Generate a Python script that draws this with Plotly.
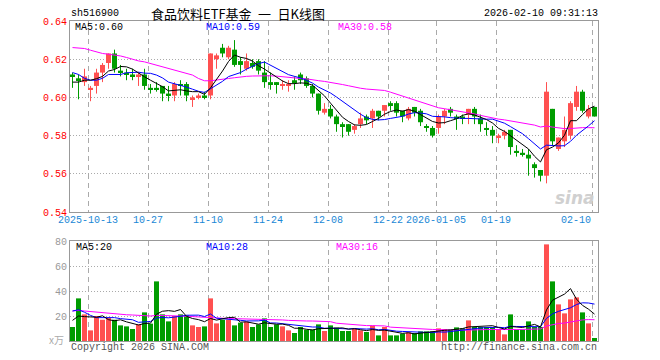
import plotly.graph_objects as go

# ---------------- data ----------------
tick_labels = ["2025-10-13", "10-27", "11-10", "11-24", "12-08", "12-22", "2026-01-05", "01-19", "02-10"]
tick_index = [3, 13, 23, 33, 43, 53, 61, 71, 87]

opens = [0.612, 0.610, 0.608, 0.604, 0.606, 0.613, 0.618, 0.623, 0.614, 0.613,
         0.612, 0.611, 0.612, 0.605, 0.605, 0.606, 0.602, 0.601, 0.607, 0.607,
         0.599, 0.600, 0.601, 0.601, 0.620, 0.626, 0.621, 0.625, 0.619, 0.615,
         0.618, 0.619, 0.613, 0.608, 0.608, 0.606, 0.606, 0.609, 0.612, 0.610,
         0.606, 0.602, 0.592, 0.594, 0.590, 0.586, 0.586, 0.583, 0.586, 0.590,
         0.589, 0.593, 0.593, 0.597, 0.597, 0.593, 0.589, 0.595, 0.593, 0.585,
         0.584, 0.584, 0.590, 0.594, 0.590, 0.590, 0.591, 0.594, 0.589, 0.584,
         0.583, 0.579, 0.580, 0.583, 0.572, 0.571, 0.570, 0.565, 0.562, 0.559,
         0.594, 0.573, 0.577, 0.580, 0.595, 0.603, 0.590, 0.595]
highs = [0.613, 0.612, 0.615, 0.606, 0.615, 0.618, 0.623, 0.625, 0.617, 0.615,
         0.615, 0.613, 0.615, 0.607, 0.608, 0.606, 0.606, 0.608, 0.609, 0.608,
         0.601, 0.602, 0.603, 0.623, 0.623, 0.628, 0.627, 0.630, 0.621, 0.623,
         0.620, 0.620, 0.619, 0.613, 0.608, 0.609, 0.609, 0.611, 0.613, 0.611,
         0.607, 0.602, 0.597, 0.596, 0.591, 0.587, 0.586, 0.586, 0.592, 0.591,
         0.594, 0.593, 0.596, 0.598, 0.598, 0.593, 0.595, 0.595, 0.594, 0.586,
         0.585, 0.591, 0.594, 0.595, 0.591, 0.591, 0.594, 0.595, 0.591, 0.587,
         0.585, 0.581, 0.583, 0.583, 0.575, 0.573, 0.573, 0.566, 0.562, 0.608,
         0.594, 0.579, 0.590, 0.598, 0.606, 0.604, 0.596, 0.595]
lows = [0.605, 0.599, 0.606, 0.598, 0.602, 0.608, 0.615, 0.613, 0.611, 0.609,
        0.609, 0.606, 0.604, 0.602, 0.603, 0.598, 0.598, 0.598, 0.601, 0.598,
        0.595, 0.599, 0.599, 0.599, 0.615, 0.621, 0.620, 0.616, 0.612, 0.614,
        0.615, 0.612, 0.605, 0.604, 0.602, 0.604, 0.603, 0.604, 0.607, 0.605,
        0.600, 0.591, 0.591, 0.589, 0.582, 0.579, 0.580, 0.581, 0.584, 0.586,
        0.584, 0.588, 0.590, 0.593, 0.590, 0.587, 0.588, 0.590, 0.585, 0.582,
        0.579, 0.581, 0.586, 0.590, 0.583, 0.586, 0.586, 0.586, 0.582, 0.580,
        0.576, 0.576, 0.578, 0.570, 0.569, 0.569, 0.559, 0.558, 0.556, 0.555,
        0.575, 0.572, 0.574, 0.578, 0.593, 0.592, 0.589, 0.590]
closes = [0.611, 0.609, 0.611, 0.605, 0.613, 0.617, 0.623, 0.615, 0.613, 0.612,
          0.611, 0.612, 0.606, 0.604, 0.604, 0.602, 0.601, 0.607, 0.606, 0.601,
          0.600, 0.601, 0.600, 0.623, 0.622, 0.623, 0.626, 0.617, 0.617, 0.619,
          0.616, 0.614, 0.608, 0.607, 0.607, 0.607, 0.607, 0.608, 0.609, 0.606,
          0.602, 0.593, 0.594, 0.590, 0.586, 0.585, 0.582, 0.585, 0.589, 0.588,
          0.593, 0.590, 0.596, 0.596, 0.592, 0.590, 0.594, 0.592, 0.587, 0.584,
          0.580, 0.590, 0.593, 0.592, 0.589, 0.589, 0.594, 0.590, 0.586, 0.583,
          0.580, 0.580, 0.582, 0.574, 0.571, 0.570, 0.568, 0.563, 0.559, 0.603,
          0.577, 0.579, 0.583, 0.597, 0.603, 0.593, 0.594, 0.590]
volumes = [11.2, 34.1, 21.3, 8.5, 20.0, 17.0, 18.4, 17.0, 12.5, 11.7,
           9.6, 13.3, 22.9, 13.9, 47.7, 21.3, 15.7, 20.0, 21.3, 20.5,
           12.5, 11.2, 11.7, 34.1, 14.1, 17.0, 17.0, 12.5, 14.7, 15.5,
           11.2, 13.3, 18.1, 11.2, 13.3, 11.7, 8.5, 6.4, 11.2, 9.1,
           9.1, 13.3, 8.0, 12.5, 10.7, 8.0, 8.0, 9.9, 8.5, 7.2,
           12.3, 4.5, 11.2, 4.5, 4.5, 5.9, 6.9, 6.4, 7.7, 7.7,
           7.7, 10.1, 9.6, 9.1, 10.9, 10.1, 16.5, 11.2, 11.2, 11.2,
           11.2, 9.1, 5.3, 21.3, 9.1, 9.1, 15.7, 11.2, 11.2, 77.3,
           47.7, 29.3, 22.1, 33.3, 34.9, 22.9, 14.1, 2.4]

# moving-average values before enough history is visible
ma5_head = [0.608, 0.608, 0.609, 0.609]
ma10_head = [0.613, 0.612, 0.610, 0.609, 0.609, 0.610, 0.612, 0.612, 0.612]
ma30_head = [0.6261, 0.6259, 0.6256, 0.6247, 0.6237, 0.6230, 0.6226, 0.6223, 0.6217, 0.6209,
             0.6198, 0.6191, 0.6186, 0.6177, 0.6170, 0.6160, 0.6151, 0.6143, 0.6134, 0.6125,
             0.6117, 0.6099, 0.6087, 0.6087, 0.6090, 0.6094, 0.6099, 0.6103, 0.6108]
vma5_head = [16.5, 20.0, 19.5, 19.0]
vma10_head = [24.0, 25.0, 23.0, 20.5, 18.7, 18.7, 18.7, 18.7, 17.9]
vma30_head = [24.0, 24.5, 24.0, 23.5, 23.2, 23.0, 22.5, 22.0, 21.5, 21.0,
              20.8, 20.5, 20.3, 20.0, 20.5, 20.5, 20.5, 20.3, 20.0, 19.8,
              19.5, 19.0, 18.6, 18.5, 18.3, 18.2, 18.0, 17.9, 17.8]

price_ticks = [0.54, 0.56, 0.58, 0.60, 0.62, 0.64]
vol_ticks = [20, 40, 60, 80]

title_code = "sh516900"
title_name = "食品饮料ETF基金\u2002一\u2002日K线图"
title_time = "2026-02-10 09:31:13"
price_ma_labels = ["MA5:0.60", "MA10:0.59", "MA30:0.58"]
vol_ma_labels = ["MA5:20", "MA10:28", "MA30:16"]


def moving_avg(vals, n, head):
    out = list(head)
    for i in range(len(head), len(vals)):
        out.append(sum(vals[i - n + 1:i + 1]) / n)
    return out


# ---------------- figure ----------------
RED = "#ff5050"
GREEN = "#009c00"
MONO = "Liberation Mono"
PAGE_OFF = 8                      # default body margin of the html page
W, H = 660 - PAGE_OFF, 360 - PAGE_OFF
ML, MR, MT, MB = 70 - PAGE_OFF, 62, 21 - PAGE_OFF, 19
PW, PH = W - ML - MR, H - MT - MB


def px_x(x):
    return (x - PAGE_OFF - ML) / PW


def px_y(y):
    return (H - MB - (y - PAGE_OFF)) / PH


n = len(closes)
idx = list(range(n))
up = [c >= o for o, c in zip(opens, closes)]
colors = [RED if u else GREEN for u in up]

fig = go.Figure()

# wicks
for flag, col in ((True, RED), (False, GREEN)):
    xs, ys = [], []
    for i in idx:
        if up[i] == flag:
            xs += [i, i, None]
            ys += [lows[i], highs[i], None]
    fig.add_trace(go.Scatter(x=xs, y=ys, mode="lines", line=dict(color=col, width=1),
                             xaxis="x", yaxis="y", hoverinfo="skip", showlegend=False))

# bodies
body_base = [min(o, c) for o, c in zip(opens, closes)]
body_h = [max(abs(c - o), 0.0005) for o, c in zip(opens, closes)]
fig.add_trace(go.Bar(x=idx, y=body_h, base=body_base, width=0.83,
                     marker=dict(color=colors, line=dict(width=0)),
                     xaxis="x", yaxis="y", showlegend=False))

# price MAs
for vals, col in ((moving_avg(closes, 30, ma30_head), "#ff00ff"),
                  (moving_avg(closes, 10, ma10_head), "#0000ff"),
                  (moving_avg(closes, 5, ma5_head), "#000000")):
    fig.add_trace(go.Scatter(x=idx, y=vals, mode="lines", line=dict(color=col, width=1),
                             xaxis="x", yaxis="y", showlegend=False))

# volume
fig.add_trace(go.Bar(x=idx, y=volumes, width=0.83,
                     marker=dict(color=colors, line=dict(width=0)),
                     xaxis="x2", yaxis="y2", showlegend=False))
for vals, col in ((moving_avg(volumes, 30, vma30_head), "#ff00ff"),
                  (moving_avg(volumes, 10, vma10_head), "#0000ff"),
                  (moving_avg(volumes, 5, vma5_head), "#000000")):
    fig.add_trace(go.Scatter(x=idx, y=vals, mode="lines", line=dict(color=col, width=1),
                             xaxis="x2", yaxis="y2", showlegend=False))

grid_x = [t - 0.37 for t in tick_index]
xr = [-0.417, 87.583]
axis_common = dict(showline=True, mirror=True, linecolor="#999999", linewidth=1,
                   zeroline=False, ticks="", automargin=False)
xcommon = dict(range=xr, tickvals=grid_x, showticklabels=False, showgrid=True,
               gridcolor="#aaaaaa", griddash="5px,4px", gridwidth=1, **axis_common)

fig.update_layout(
    width=W, height=H, margin=dict(l=ML, r=MR, t=MT, b=MB),
    paper_bgcolor="white", plot_bgcolor="white",
    barmode="overlay", showlegend=False,
    xaxis=dict(domain=[0, 1], anchor="y", **xcommon),
    xaxis2=dict(domain=[0, 1], anchor="y2", matches="x", **xcommon),
    yaxis=dict(domain=[px_y(212), 1], range=[0.54, 0.64], tickvals=price_ticks,
               ticktext=["%.2f" % v for v in price_ticks],
               tickfont=dict(family=MONO, size=10, color="#ff0000"),
               showgrid=True, gridcolor="#aaaaaa", griddash="1px,2px", gridwidth=1,
               **axis_common),
    yaxis2=dict(domain=[0, px_y(241)], range=[0, 80], tickvals=vol_ticks,
                tickfont=dict(family=MONO, size=10, color="#999999"),
                showgrid=True, gridcolor="#aaaaaa", griddash="1px,2px", gridwidth=1,
                **axis_common),
)

ann = []


def add_text(text, x, y, color, size=10, family=MONO, anchor="left"):
    ann.append(dict(text=text, x=px_x(x), y=px_y(y), xref="paper", yref="paper",
                    xanchor=anchor, yanchor="middle", showarrow=False,
                    font=dict(family=family, size=size, color=color)))


# date labels
for lab, gx in zip(tick_labels, grid_x):
    a = dict(text=lab, x=gx, y=px_y(220), xref="x", yref="paper",
             xanchor="center", yanchor="middle", showarrow=False,
             font=dict(family=MONO, size=10, color="#1a88d6"))
    if lab == tick_labels[-1]:
        a["xanchor"] = "right"
        a["x"] = gx + 0.2
    ann.append(a)

add_text(title_code, 69, 13, "#000000")
add_text(title_name, 149, 13, "#000000", size=13, family="Noto Sans CJK SC")
add_text(title_time, 600, 13, "#000000", anchor="right")

for lab, x, col in zip(price_ma_labels, [73, 204, 336], ["#000000", "#0000ff", "#ff00ff"]):
    add_text(lab, x, 27, col)
for lab, x, col in zip(vol_ma_labels, [74, 204, 334], ["#000000", "#0000ff", "#ff00ff"]):
    add_text(lab, x, 247, col)

add_text("Copyright 2026 SINA.COM", 69, 347, "#555555")
add_text("http://finance.sina.com.cn", 599, 347, "#555555", anchor="right")
add_text("x万", 47, 339, "#aaaaaa", size=10, family="Noto Sans CJK SC")
add_text("<b><i>sina</i></b>", 597, 198, "#d0d0d0", size=17, family="DejaVu Sans", anchor="right")

fig.update_layout(annotations=ann)
fig.write_html("out.html")
